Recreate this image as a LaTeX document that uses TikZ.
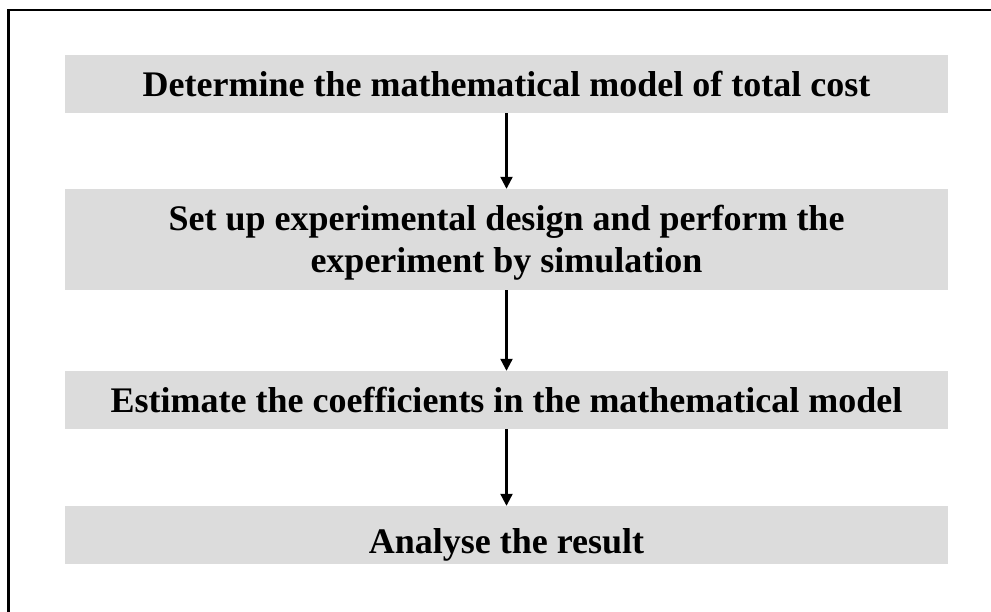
\documentclass[tikz,border=0pt]{standalone}
\usepackage{fontspec}
\setmainfont{Liberation Serif}
\usetikzlibrary{arrows.meta}
\definecolor{boxgray}{HTML}{DCDCDC}

\tikzset{
  stepbox/.style={fill=boxgray, minimum width=883pt, inner sep=0pt,
    font=\fontsize{36}{42}\selectfont\bfseries, align=center,
    text height=25pt, text depth=0pt},
  flowarrow/.style={line width=2.2pt, -{Triangle[length=12pt,width=12pt]}}
}

\begin{document}
\begin{tikzpicture}[x=1pt,y=-1pt]
\useasboundingbox (0,0) rectangle (991,612);
\draw[line width=2.2pt] (8.5,612) -- (8.5,10) -- (991,10);
\node[stepbox, minimum height=58pt] (model) at (506.5,84) {Determine the mathematical model of total cost};
\node[stepbox, minimum height=101pt, text height=67pt] (design) at (506.5,239.5) {Set up experimental design and perform the\\experiment by simulation};
\node[stepbox, minimum height=58pt] (coeff) at (506.5,400) {Estimate the coefficients in the mathematical model};
\node[stepbox, minimum height=58pt, text height=36pt] (result) at (506.5,535) {Analyse the result};
\draw[flowarrow] (model) -- (design);
\draw[flowarrow] (design) -- (coeff);
\draw[flowarrow] (coeff) -- (result);
\end{tikzpicture}
\end{document}
